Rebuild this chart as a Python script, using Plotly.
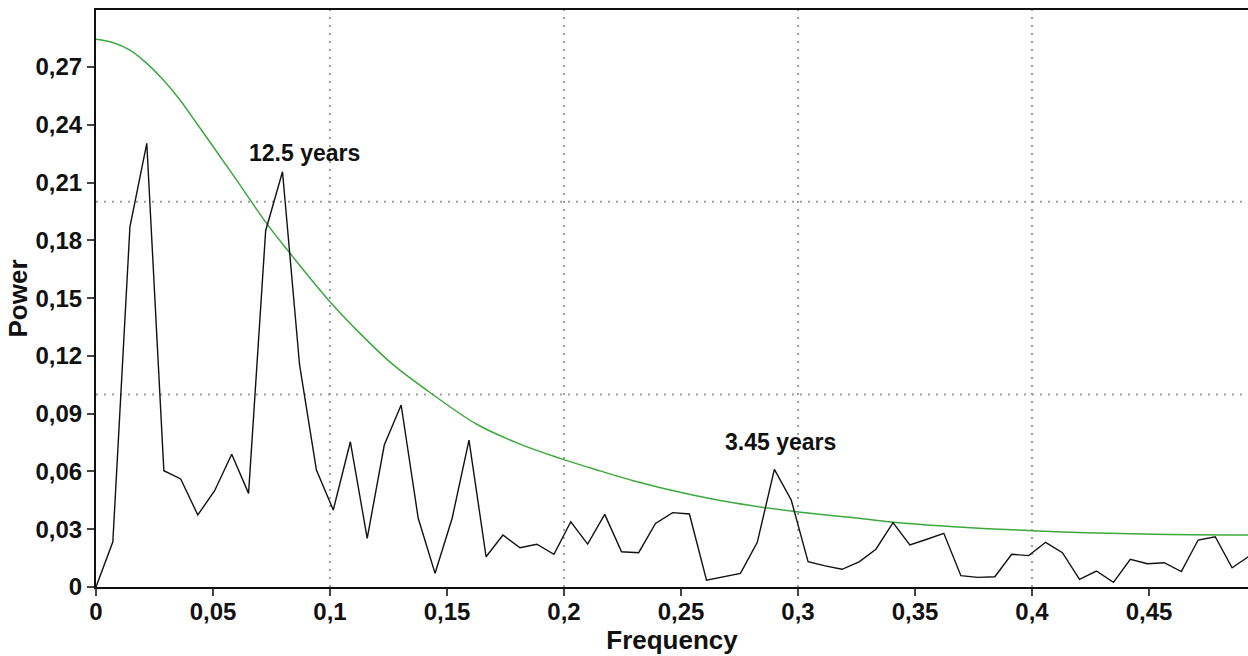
import plotly.graph_objects as go

# Periodogram (frequency in cycles/year, power)
freq = [0.0, 0.0072, 0.0145, 0.0217, 0.0290, 0.0362, 0.0435, 0.0507, 0.0580, 0.0652,
        0.0725, 0.0797, 0.0870, 0.0942, 0.1014, 0.1087, 0.1159, 0.1232, 0.1304, 0.1377,
        0.1449, 0.1522, 0.1594, 0.1667, 0.1739, 0.1812, 0.1884, 0.1957, 0.2029, 0.2101,
        0.2174, 0.2246, 0.2319, 0.2391, 0.2464, 0.2536, 0.2609, 0.2681, 0.2754, 0.2826,
        0.2899, 0.2971, 0.3043, 0.3116, 0.3188, 0.3261, 0.3333, 0.3406, 0.3478, 0.3551,
        0.3623, 0.3696, 0.3768, 0.3841, 0.3913, 0.3986, 0.4058, 0.4130, 0.4203, 0.4275,
        0.4348, 0.4420, 0.4493, 0.4565, 0.4638, 0.4710, 0.4783, 0.4855, 0.4928]
power = [0.0, 0.0235, 0.187, 0.2304, 0.0604, 0.0561, 0.0374, 0.050, 0.0689, 0.0486,
         0.185, 0.2156, 0.1153, 0.0607, 0.040, 0.0754, 0.0253, 0.0737, 0.0945, 0.0357,
         0.0071, 0.0357, 0.0763, 0.0157, 0.027, 0.0204, 0.0222, 0.017, 0.0339, 0.0223,
         0.0377, 0.0183, 0.0178, 0.033, 0.0386, 0.0379, 0.0036, 0.0054, 0.0071, 0.0232,
         0.0611, 0.0452, 0.0131, 0.011, 0.0092, 0.0131, 0.0196, 0.0334, 0.0218, 0.0248,
         0.0279, 0.0059, 0.005, 0.0053, 0.017, 0.0163, 0.0232, 0.0178, 0.004, 0.0083,
         0.0024, 0.0144, 0.0121, 0.0126, 0.008, 0.0244, 0.0261, 0.010, 0.016]

# Red-noise significance curve
curve_f = [0.0, 0.0074, 0.0145, 0.0217, 0.0288, 0.0359, 0.043, 0.0501, 0.0601, 0.0729,
           0.0829, 0.1, 0.1128, 0.1271, 0.1442, 0.1627, 0.1812, 0.1983, 0.2154, 0.2296,
           0.251, 0.2724, 0.2994, 0.3222, 0.3407, 0.3664, 0.4003, 0.4233, 0.4518, 0.4928]
curve_p = [0.2844, 0.2826, 0.2788, 0.2719, 0.2632, 0.2529, 0.2408, 0.2286, 0.2113, 0.1888,
           0.1733, 0.1481, 0.1317, 0.1153, 0.0997, 0.0845, 0.0742, 0.0668, 0.0603, 0.0552,
           0.0488, 0.0437, 0.0391, 0.0362, 0.0336, 0.0313, 0.0292, 0.0282, 0.0274, 0.027]

x_ticks = [0, 0.05, 0.1, 0.15, 0.2, 0.25, 0.3, 0.35, 0.4, 0.45]
x_labels = ["0", "0,05", "0,1", "0,15", "0,2", "0,25", "0,3", "0,35", "0,4", "0,45"]
y_ticks = [0, 0.03, 0.06, 0.09, 0.12, 0.15, 0.18, 0.21, 0.24, 0.27]
y_labels = ["0", "0,03", "0,06", "0,09", "0,12", "0,15", "0,18", "0,21", "0,24", "0,27"]
grid_x = [0.1, 0.2, 0.3, 0.4]
grid_y = [0.1, 0.2]

labels = [("12.5 years", 0.0893, 0.2253), ("3.45 years", 0.2927, 0.0753)]

FONT = "Liberation Sans, Arial"

fig = go.Figure()
fig.add_trace(go.Scatter(x=curve_f, y=curve_p, mode="lines",
                         line=dict(color="#3da83d", width=1.5, shape="spline", smoothing=1.0),
                         hoverinfo="skip", showlegend=False))
fig.add_trace(go.Scatter(x=freq, y=power, mode="lines", line=dict(color="#111111", width=1.4),
                         showlegend=False))

for gx in grid_x:
    fig.add_shape(type="line", xref="x", yref="paper", x0=gx, x1=gx, y0=0, y1=1, layer="below",
                  line=dict(color="#a0a0a0", width=2, dash="2px,6px"))
for gy in grid_y:
    fig.add_shape(type="line", xref="paper", yref="y", x0=0, x1=1, y0=gy, y1=gy, layer="below",
                  line=dict(color="#a0a0a0", width=2, dash="2px,6px"))

for txt, ax_, ay_ in labels:
    fig.add_annotation(x=ax_, y=ay_, text="<b>" + txt + "</b>", showarrow=False,
                       font=dict(family=FONT, size=23, color="#111111"))

font_tick = dict(family=FONT, size=24, color="#111111")

fig.update_layout(
    width=1248, height=656,
    margin=dict(l=96, r=0, t=10, b=69),
    plot_bgcolor="white", paper_bgcolor="white",
    xaxis=dict(range=[0, 0.4923], tickvals=x_ticks, ticktext=["<b>%s</b>" % s for s in x_labels],
               showgrid=False, zeroline=False, showline=True, linecolor="#111111", linewidth=2,
               mirror=True, ticks="outside", ticklen=7, tickwidth=2, tickcolor="#444444",
               tickfont=font_tick, ticklabelstandoff=-5,
               title=dict(text="<b>Frequency</b>", font=dict(family=FONT, size=26, color="#111111"),
                          standoff=5)),
    yaxis=dict(range=[0, 0.2996], tickvals=y_ticks, ticktext=["<b>%s</b>" % s for s in y_labels],
               showgrid=False, zeroline=False, showline=True, linecolor="#111111", linewidth=2,
               ticks="outside", ticklen=7, tickwidth=2, tickcolor="#444444",
               tickfont=font_tick,
               title=dict(text="<b>Power</b>", font=dict(family=FONT, size=26, color="#111111"),
                          standoff=0)),
)

fig.write_html("out.html")
